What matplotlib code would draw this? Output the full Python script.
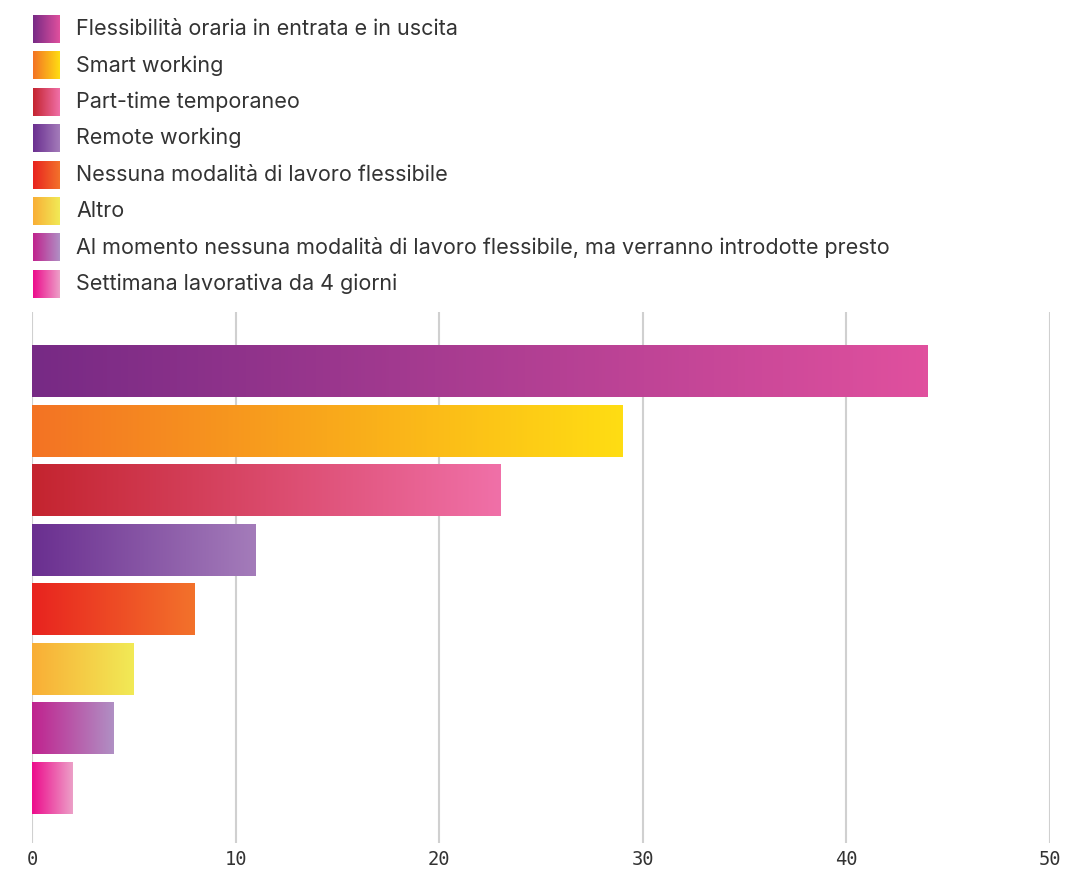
import numpy as np
import matplotlib
matplotlib.use("Agg")
import matplotlib.pyplot as plt
from matplotlib.colors import LinearSegmentedColormap

labels = [
    "Flessibilità oraria in entrata e in uscita",
    "Smart working",
    "Part-time temporaneo",
    "Remote working",
    "Nessuna modalità di lavoro flessibile",
    "Altro",
    "Al momento nessuna modalità di lavoro flessibile, ma verranno introdotte presto",
    "Settimana lavorativa da 4 giorni",
]
values = [44, 29, 23, 11, 8, 5, 4, 2]
start_colors = ["#772a85", "#f37324", "#c4242f", "#6a2f90", "#e8231f", "#f9ae36", "#c0228e", "#ec0c8c"]
end_colors = ["#e0509e", "#ffdd13", "#f070a8", "#a47cba", "#f3722b", "#f1ea56", "#b090c4", "#eda0c8"]
xticks = [0, 10, 20, 30, 40, 50]

W, H = 1065, 872
fig = plt.figure(figsize=(W / 100, H / 100), dpi=100)
grad = np.linspace(0, 1, 256).reshape(1, -1)

# bar chart
ax = fig.add_axes([32 / W, 1 - 843 / H, (1050 - 32) / W, (843 - 312) / H])
for i, (v, c0, c1) in enumerate(zip(values, start_colors, end_colors)):
    cmap = LinearSegmentedColormap.from_list(f"g{i}", [c0, c1])
    ax.imshow(grad, cmap=cmap, extent=[0, v, i + 0.43, i - 0.43],
              aspect="auto", interpolation="bilinear", zorder=2)
ax.set_xlim(0, 50)
ax.set_ylim(7.92, -1.0)
for t in xticks:
    ax.axvline(t, color="#d0d0d0", lw=1.5, zorder=1)
ax.set_yticks([])
ax.set_xticks(xticks)
ax.set_xticklabels([str(t) for t in xticks], family="DejaVu Sans Mono",
                   fontsize=13.5, color="#333333")
ax.tick_params(axis="x", length=0, pad=5)
for s in ax.spines.values():
    s.set_visible(False)

# legend
lax = fig.add_axes([0, 0, 1, 1])
lax.axis("off")
for i, (lab, c0, c1) in enumerate(zip(labels, start_colors, end_colors)):
    yc = 29 + i * 36.4
    cmap = LinearSegmentedColormap.from_list(f"l{i}", [c0, c1])
    lax.imshow(grad, cmap=cmap, extent=[33, 60, yc + 14, yc - 14],
               aspect="auto", interpolation="bilinear")
    lax.text(76, yc, lab, fontsize=15.5, color="#333333", family="Inter",
             va="center", ha="left")
lax.set_xlim(0, W)
lax.set_ylim(H, 0)

fig.savefig("out.png", dpi=100)
